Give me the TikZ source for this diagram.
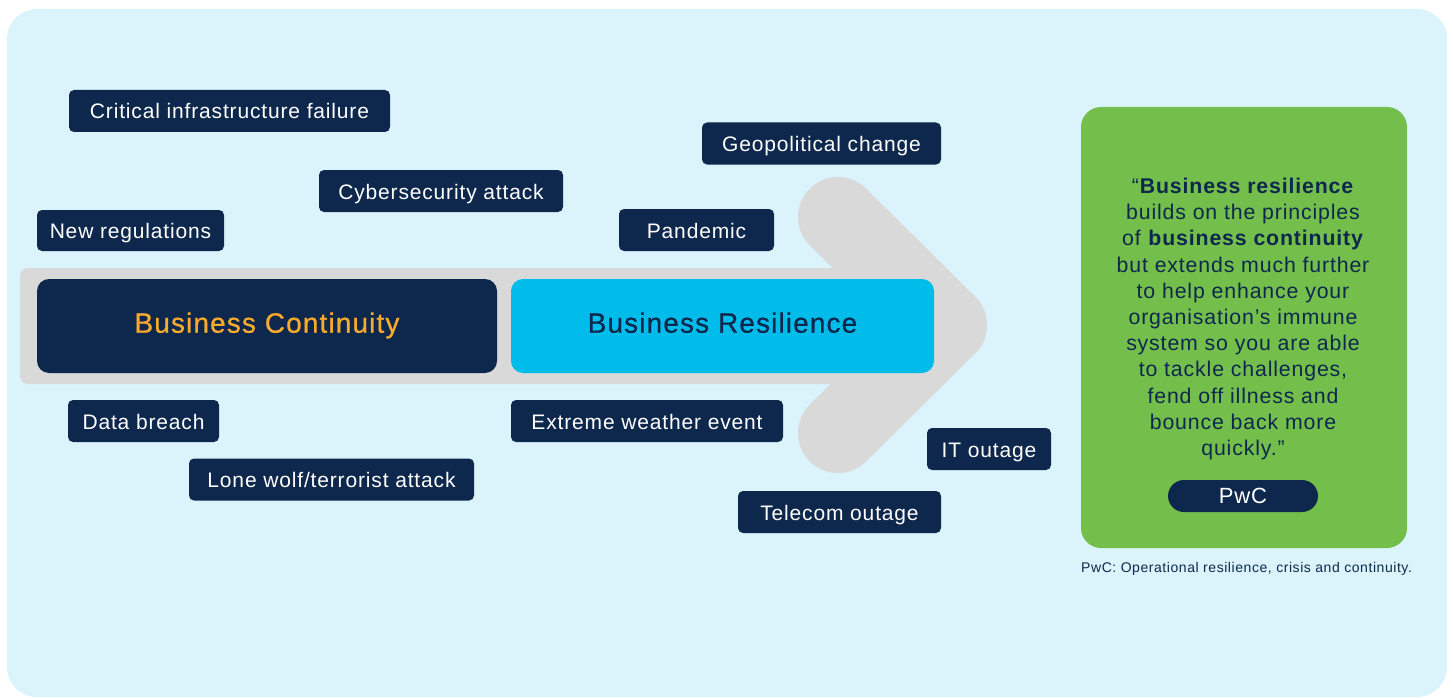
\documentclass[tikz,border=0pt]{standalone}
\usepackage{fontspec}
\setmainfont{Liberation Sans}[LetterSpace=4]
\newfontfamily\titlefont{Liberation Sans}[LetterSpace=4,FakeBold=0.6]
\definecolor{panelbg}{RGB}{219,244,252}
\definecolor{navy}{RGB}{14,40,77}
\definecolor{cyanbox}{RGB}{0,188,235}
\definecolor{orangetxt}{RGB}{251,171,44}
\definecolor{arrowgray}{RGB}{217,217,217}
\definecolor{quotegreen}{RGB}{116,191,75}
\begin{document}
\begin{tikzpicture}[x=1pt,y=-1pt,
  lbl/.style={fill=navy, rounded corners=5pt, text=white, inner sep=0pt,
    minimum height=42pt, text height=19pt, text depth=3pt, font=\fontsize{21}{25}\selectfont},
  bigbox/.style={rounded corners=12pt, inner sep=0pt, minimum width=#1, minimum height=94pt,
    text height=20pt, text depth=6.6pt, font=\titlefont\fontsize{28}{32}\selectfont},
]
\useasboundingbox (0,0) rectangle (1453,698);
% panel
\fill[panelbg, rounded corners=30pt] (7,9) rectangle (1447,697);
% arrow
\fill[arrowgray, rounded corners=8pt] (20,268) rectangle (900,384);
\draw[arrowgray, line width=80pt, line cap=round, line join=round]
  (838,217) -- (947,325) -- (838,433);
% main boxes
\node[bigbox=460pt, fill=navy, text=orangetxt] (bc) at (267,326) {Business Continuity};
\node[bigbox=423pt, fill=cyanbox, text=navy] (br) at (722.5,326) {Business Resilience};
% labels
\node[lbl, minimum width=321pt] (crit) at (229.5,111) {Critical infrastructure failure};
\node[lbl, minimum width=244pt] (cyber) at (441,191) {Cybersecurity attack};
\node[lbl, minimum width=187pt, minimum height=41pt] (newreg) at (130.5,230.5) {New regulations};
\node[lbl, minimum width=239pt] (geo) at (821.5,143.5) {Geopolitical change};
\node[lbl, minimum width=155pt] (pand) at (696.5,230) {Pandemic};
\node[lbl, minimum width=151pt] (data) at (143.5,421) {Data breach};
\node[lbl, minimum width=285pt] (lone) at (331.5,479.5) {Lone wolf/terrorist attack};
\node[lbl, minimum width=272pt] (extreme) at (647,421) {Extreme weather event};
\node[lbl, minimum width=124pt] (it) at (989,449) {IT outage};
\node[lbl, minimum width=203pt] (tele) at (839.5,512) {Telecom outage};
% quote box
\node[fill=quotegreen, rounded corners=20pt, minimum width=326pt, minimum height=441pt, inner sep=0pt] (qbox) at (1244,327.5) {};
\node[text=navy, align=center, inner sep=0pt, font=\fontsize{21.3}{26.2}\selectfont] (qtext) at (1243,319)
  {“\textbf{Business resilience}\\ builds on the principles\\ of \textbf{business continuity}\\ but extends much further\\ to help enhance your\\ organisation’s immune\\ system so you are able\\ to tackle challenges,\\ fend off illness and\\ bounce back more\\ quickly.”};
\node[fill=navy, text=white, rounded corners=16pt, minimum width=150pt, minimum height=32pt, inner sep=0pt,
  text height=16pt, text depth=1pt, font=\fontsize{22}{26}\selectfont] (pwc) at (1243,496) {PwC};
\node[anchor=west, text=navy, inner sep=0pt, font=\fontsize{14}{16}\selectfont] (cap) at (1081,569)
  {PwC: Operational resilience, crisis and continuity.};
\end{tikzpicture}
\end{document}
